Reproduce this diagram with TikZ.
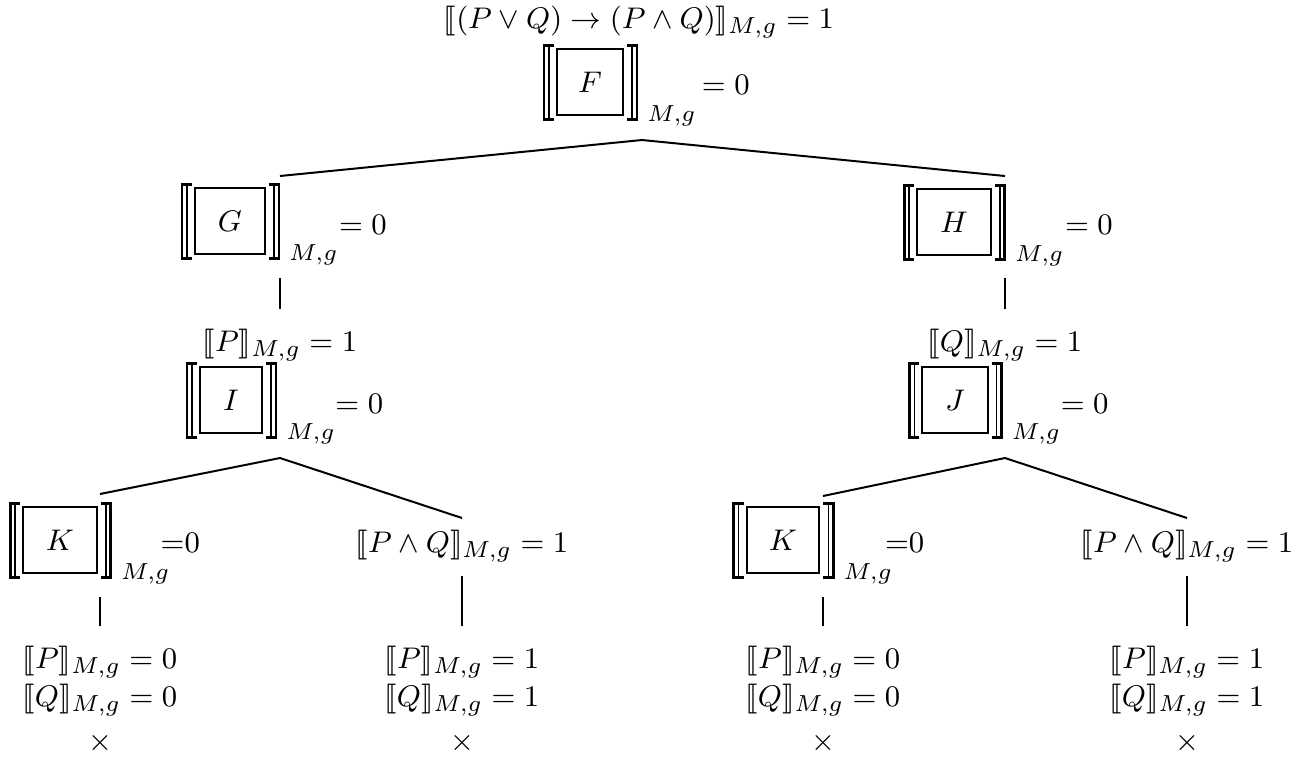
\documentclass[tikz,border=0pt]{standalone}
\usepackage{amsmath,amssymb}
\usepackage{stmaryrd}
\usetikzlibrary{positioning,calc}

\begin{document}
\begin{tikzpicture}[
    x=0.0106cm, y=-0.0106cm,
    every node/.style={inner sep=0pt, font=\fontsize{9.3}{11}\selectfont},
    edge/.style={line width=0.6pt, black},
    frm/.style={draw, line width=0.6pt, minimum height=0.69cm,
                minimum width=0.72cm},
    brk/.style={line width=0.8pt},
    brki/.style={line width=0.45pt},
    val/.style={inner sep=0pt},
    sub/.style={inner sep=0pt},
]

% ── column x-positions (px) ─────────────────────────────────
\def\xA{100}
\def\xB{280}
\def\xC{462}
\def\xD{642}
\def\xE{823}
\def\xF{1005}
\def\xG{1187}

\useasboundingbox (0,0) rectangle (1309,760);

% ════ ROOT ═══════════════════════════════════════════════════
\node (top) at (639,22) {$\llbracket(P\vee Q)\rightarrow(P\wedge Q)\rrbracket_{M,g}=1$};
\node[frm, minimum width=0.70cm] (F) at (590,82) {$F$};

% ════ BOXED NODES ════════════════════════════════════════════
\node[frm, minimum width=0.74cm] (G)  at (230,221) {$G$};
\node[frm, minimum width=0.78cm] (H)  at (954,222) {$H$};
\node[frm, minimum width=0.66cm] (I)  at (231,400) {$I$};
\node[frm, minimum width=0.69cm] (J)  at (955,400) {$J$};
\node[frm, minimum width=0.78cm] (Kl) at (60,540)  {$K$};
\node[frm, minimum width=0.77cm] (Kr) at (783,540) {$K$};

% ── brackets, subscripts ─────────────────────────────────────
\foreach \n in {F,G,H,I,J,Kl,Kr}{
    \draw[brk] ($(\n.north west)+(-2,-3)$) -| ($(\n.south west)+(-12,4)$) -- ++(10,0);
    \draw[brki] ($(\n.north west)+(-7,-3)$) -- ($(\n.south west)+(-7,4)$);
    \draw[brk] ($(\n.north east)+(3,-3)$) -| ($(\n.south east)+(13,4)$) -- ++(-10,0);
    \draw[brki] ($(\n.north east)+(8,-3)$) -- ($(\n.south east)+(8,4)$);
    \node[sub, right=0.24cm of \n.south east] (\n s) {$\scriptstyle M,g$};
}

% ── values ───────────────────────────────────────────────────
\node[val, right=0.82cm of F,  yshift=-0.03cm] (Fv)  {$=0$};
\node[val, right=0.77cm of G,  yshift=-0.04cm] (Gv)  {$=0$};
\node[val, right=0.77cm of H,  yshift=-0.03cm] (Hv)  {$=0$};
\node[val, right=0.76cm of I,  yshift=-0.04cm] (Iv)  {$=0$};
\node[val, right=0.76cm of J,  yshift=-0.04cm] (Jv)  {$=0$};
\node[val, right=0.66cm of Kl, yshift=-0.03cm] (Klv) {${=}0$};
\node[val, right=0.68cm of Kr, yshift=-0.03cm] (Krv) {${=}0$};

% ════ PLAIN FORMULAS ═════════════════════════════════════════
\node (PG)  at (\xB,345) {$\llbracket P\rrbracket_{M,g}=1$};
\node (QH)  at (\xF,345) {$\llbracket Q\rrbracket_{M,g}=1$};
\node (PQl) at (\xC,546) {$\llbracket P\wedge Q\rrbracket_{M,g}=1$};
\node (PQr) at (\xG,546) {$\llbracket P\wedge Q\rrbracket_{M,g}=1$};

% ── leaves ───────────────────────────────────────────────────
\foreach \n/\x/\v in {a/\xA/0, c/\xC/1, e/\xE/0, g/\xG/1}{
    \node (P\n) at (\x,662) {$\llbracket P\rrbracket_{M,g}=\v$};
    \node (Q\n) at (\x,700) {$\llbracket Q\rrbracket_{M,g}=\v$};
    \node (X\n) at (\x,743) {$\times$};
}

% ════ CONNECTORS ═════════════════════════════════════════════
\coordinate (Fj) at (\xD,140);
\coordinate (Gt) at (\xB,176);
\coordinate (Ht) at (\xF,176);
\draw[edge] (Gt) -- (Fj) -- (Ht);

\coordinate (Ij) at (\xB,458);
\coordinate (Klt) at (\xA,494);
\coordinate (PQlt) at (\xC,518);
\draw[edge] (Klt) -- (Ij) -- (PQlt);

\coordinate (Jj) at (\xF,458);
\coordinate (Krt) at (\xE,496);
\coordinate (PQrt) at (\xG,518);
\draw[edge] (Krt) -- (Jj) -- (PQrt);

% ── vertical links ───────────────────────────────────────────
\foreach \n/\x in {G/\xB, H/\xF}{
    \coordinate (\n b) at (\x,278);
    \coordinate (\n e) at (\x,309);
    \draw[edge] (\n b) -- (\n e);
}
\foreach \n/\x/\y in {Kl/\xA/597, Kr/\xE/597, PQl/\xC/576, PQr/\xG/576}{
    \coordinate (\n b) at (\x,\y);
    \coordinate (\n e) at (\x,626);
    \draw[edge] (\n b) -- (\n e);
}

\end{tikzpicture}
\end{document}
